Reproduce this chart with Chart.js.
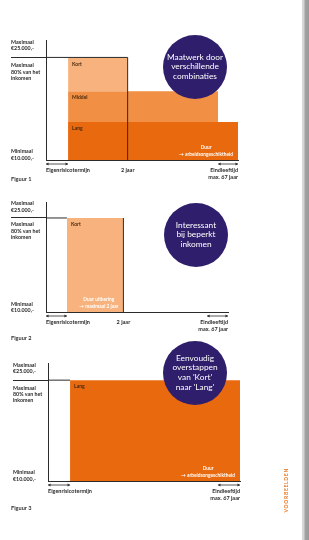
<!DOCTYPE html>
<html lang="nl">
<head>
<meta charset="utf-8">
<script src="https://cdn.jsdelivr.net/npm/chart.js@4"></script>
<style>
  body { margin: 0; width: 309px; height: 540px; position: relative; overflow: hidden; background: #fff; font-family: Lato, sans-serif; }
  .fig { position: absolute; left: 0; width: 309px; }
  .bubble { position: absolute; width: 64px; height: 64px; border-radius: 50%; background: #2e1e6b; color: #fff;
            font-size: 8.3px; line-height: 9.6px; text-align: center; display: flex; align-items: center; justify-content: center; }
  .caption { position: absolute; left: 11px; font-size: 5.6px; color: #333; font-weight: bold; }
  .edge { position: absolute; left: 302px; top: 0; width: 7px; height: 540px;
          background: linear-gradient(to right, #d6d6d6 0, #d6d6d6 2px, #a2a2a2 3px, #9a9a9a 100%); }
  .side { position: absolute; left: 283px; top: 468px; writing-mode: vertical-rl; transform: rotate(180deg);
          font-size: 5px; letter-spacing: 0.7px; color: #e8701a; font-weight: bold; }
</style>
</head>
<body>
<div class="fig" style="top:0;height:185px"><canvas id="fig1"></canvas></div>
<div class="fig" style="top:185px;height:160px"><canvas id="fig2"></canvas></div>
<div class="fig" style="top:345px;height:195px"><canvas id="fig3"></canvas></div>

<div class="bubble" style="left:163px;top:35px">Maatwerk door<br>verschillende<br>combinaties</div>
<div class="bubble" style="left:164px;top:203px">Interessant<br>bij beperkt<br>inkomen</div>
<div class="bubble" style="left:163px;top:341px">Eenvoudig<br>overstappen<br>van 'Kort'<br>naar 'Lang'</div>

<div class="caption" style="top:175px">Figuur 1</div>
<div class="caption" style="top:334px">Figuur 2</div>
<div class="caption" style="top:504px">Figuur 3</div>

<div class="edge"></div>
<div class="side">VOORBEELDEN</div>

<script>
// tijd-as (schematisch): 0 = start, 1 = einde eigenrisicotermijn
const timeMax = 8.7;
const tweeJaar = 3.7;
const timeTicks = [0, 3.7, 8.7];
const timeLabels = ['Eigenrisicotermijn', '2 jaar', ['Eindleeftijd', 'max. 67 jaar']];
const timeTicks3 = [0, 8.7];
const timeLabels3 = ['Eigenrisicotermijn', ['Eindleeftijd', 'max. 67 jaar']];

// uitkering-as (schematisch): 100 = maximaal
const levelMax = 117;
const maxLevel = 100;
const levelTicks = [5, 86, 100, 112];
const levelLabels = [['Minimaal', '€10.000,-'], ['Maximaal', '80% van het', 'inkomen'], '', ['Maximaal', '€25.000,-']];

// figuur 1
const fig1Names = ['Kort', 'Middel', 'Lang'];
const fig1From = [1, 1, 1];
const fig1To = [3.7, 7.8, 8.7];
const fig1Low = [67, 37, 0];
const fig1High = [100, 67, 37];
const fig1Arrows = [[0, 1], [7.8, 8.7]];

// figuur 2
const fig2Names = ['Kort'];
const fig2From = [1];
const fig2To = [3.7];
const fig2Low = [0];
const fig2High = [100];
const fig2Arrows = [[0, 1], [7.7, 8.7]];

// figuur 3
const fig3Names = ['Lang'];
const fig3From = [1];
const fig3To = [8.7];
const fig3Low = [0];
const fig3High = [100];
const fig3Arrows = [[0, 1], [7.7, 8.7]];

const bandColors = { Kort: '#f8b27d', Middel: '#f18f45', Lang: '#e9690f' };
const ink = '#2b2b2b';

function makeFigure(id, f) {
  const datasets = [];
  datasets.push({
    data: [{ x: 0, y: maxLevel }, { x: f.maxTo, y: maxLevel }],
    borderColor: ink, borderWidth: 1, pointRadius: 0, fill: false, order: 1
  });
  if (f.vLine) {
    datasets.push({
      data: [{ x: tweeJaar, y: 0 }, { x: tweeJaar, y: maxLevel }],
      borderColor: ink, borderWidth: 1, pointRadius: 0, fill: false, order: 1
    });
  }
  f.names.forEach((n, i) => {
    datasets.push({
      label: n,
      data: [{ x: f.from[i], y: f.high[i] }, { x: f.to[i], y: f.high[i] }],
      fill: { value: f.low[i] },
      backgroundColor: bandColors[n],
      borderColor: 'rgba(0,0,0,0)', borderWidth: 0, pointRadius: 0, order: 3
    });
  });

  const extras = {
    id: 'extras',
    afterDatasetsDraw(chart) {
      const { ctx, scales: { x, y } } = chart;
      ctx.save();
      ctx.font = 'bold 5px Lato';
      ctx.fillStyle = '#4a2a10';
      ctx.textBaseline = 'top';
      ctx.textAlign = 'left';
      f.names.forEach((n, i) => {
        ctx.fillText(n, x.getPixelForValue(f.from[i]) + 4, y.getPixelForValue(f.high[i]) + 4);
      });
      // toelichting onderin de laatste band
      const last = f.names.length - 1;
      ctx.font = 'bold 4.8px Lato';
      ctx.fillStyle = '#fff';
      ctx.textAlign = 'center';
      ctx.textBaseline = 'middle';
      const w = Math.max(...f.note.map(t => ctx.measureText(t).width));
      const cx = x.getPixelForValue(f.to[last]) - 5 - w / 2;
      const by = y.getPixelForValue(0);
      ctx.fillText(f.note[0], cx, by - 13);
      ctx.fillText(f.note[1], cx, by - 6);
      ctx.restore();
    },
    afterDraw(chart) {
      const { ctx, scales: { x, y } } = chart;
      const ay = y.getPixelForValue(0) + 4;
      ctx.save();
      ctx.strokeStyle = ink;
      ctx.fillStyle = ink;
      ctx.lineWidth = 0.8;
      f.arrows.forEach(([a, b]) => {
        const x1 = x.getPixelForValue(a), x2 = x.getPixelForValue(b);
        ctx.beginPath();
        ctx.moveTo(x1, ay); ctx.lineTo(x2, ay);
        ctx.stroke();
        [[x1, 1], [x2, -1]].forEach(([px, d]) => {
          ctx.beginPath();
          ctx.moveTo(px, ay);
          ctx.lineTo(px + 2.5 * d, ay - 1.4);
          ctx.lineTo(px + 2.5 * d, ay + 1.4);
          ctx.closePath();
          ctx.fill();
        });
      });
      ctx.restore();
    }
  };

  return new Chart(document.getElementById(id), {
    type: 'line',
    data: { datasets },
    plugins: [extras],
    options: {
      responsive: true,
      maintainAspectRatio: false,
      animation: false,
      events: [],
      layout: { padding: f.padding },
      plugins: { legend: { display: false }, tooltip: { enabled: false } },
      scales: {
        x: {
          type: 'linear',
          min: 0,
          max: timeMax,
          afterFit: s => { s.height = 25; },
          afterBuildTicks: s => { s.ticks = f.ticks.map(v => ({ value: v })); },
          grid: { display: false, drawTicks: false },
          border: { display: true, color: ink, width: 1 },
          ticks: {
            align: 'inner',
            autoSkip: false,
            maxRotation: 0,
            padding: 7,
            color: ink,
            font: { family: 'Lato', size: 5.5, weight: 'bold', lineHeight: 1.25 },
            callback: (v, i) => f.labels[i]
          }
        },
        y: {
          min: 0,
          max: levelMax,
          afterFit: s => { s.width = 35; },
          afterBuildTicks: s => { s.ticks = levelTicks.map(v => ({ value: v })); },
          grid: {
            display: true,
            drawOnChartArea: false,
            drawTicks: true,
            tickLength: 35,
            tickWidth: 1,
            color: c => (c.tick && c.tick.value === maxLevel ? ink : 'rgba(0,0,0,0)'),
            tickColor: c => (c.tick && c.tick.value === maxLevel ? ink : 'rgba(0,0,0,0)')
          },
          border: { display: true, color: ink, width: 1 },
          ticks: {
            crossAlign: 'far',
            autoSkip: false,
            color: ink,
            font: { family: 'Lato', size: 5.3, weight: 'bold', lineHeight: 1.2 },
            callback: (v, i) => levelLabels[i]
          }
        }
      }
    }
  });
}

makeFigure('fig1', {
  names: fig1Names, from: fig1From, to: fig1To, low: fig1Low, high: fig1High, arrows: fig1Arrows,
  ticks: timeTicks, labels: timeLabels, maxTo: tweeJaar, vLine: true,
  note: ['Duur', '→ arbeidsongeschiktheid'],
  padding: { top: 40, left: 11, right: 71, bottom: 0 }
});
makeFigure('fig2', {
  names: fig2Names, from: fig2From, to: fig2To, low: fig2Low, high: fig2High, arrows: fig2Arrows,
  ticks: timeTicks, labels: timeLabels, maxTo: 1, vLine: true,
  note: ['Duur uitkering', '→ maximaal 2 jaar'],
  padding: { top: 17, left: 11, right: 81, bottom: 8 }
});
makeFigure('fig3', {
  names: fig3Names, from: fig3From, to: fig3To, low: fig3Low, high: fig3High, arrows: fig3Arrows,
  ticks: timeTicks3, labels: timeLabels3, maxTo: 1, vLine: false,
  note: ['Duur', '→ arbeidsongeschiktheid'],
  padding: { top: 18, left: 13, right: 69, bottom: 34 }
});
</script>
</body>
</html>
